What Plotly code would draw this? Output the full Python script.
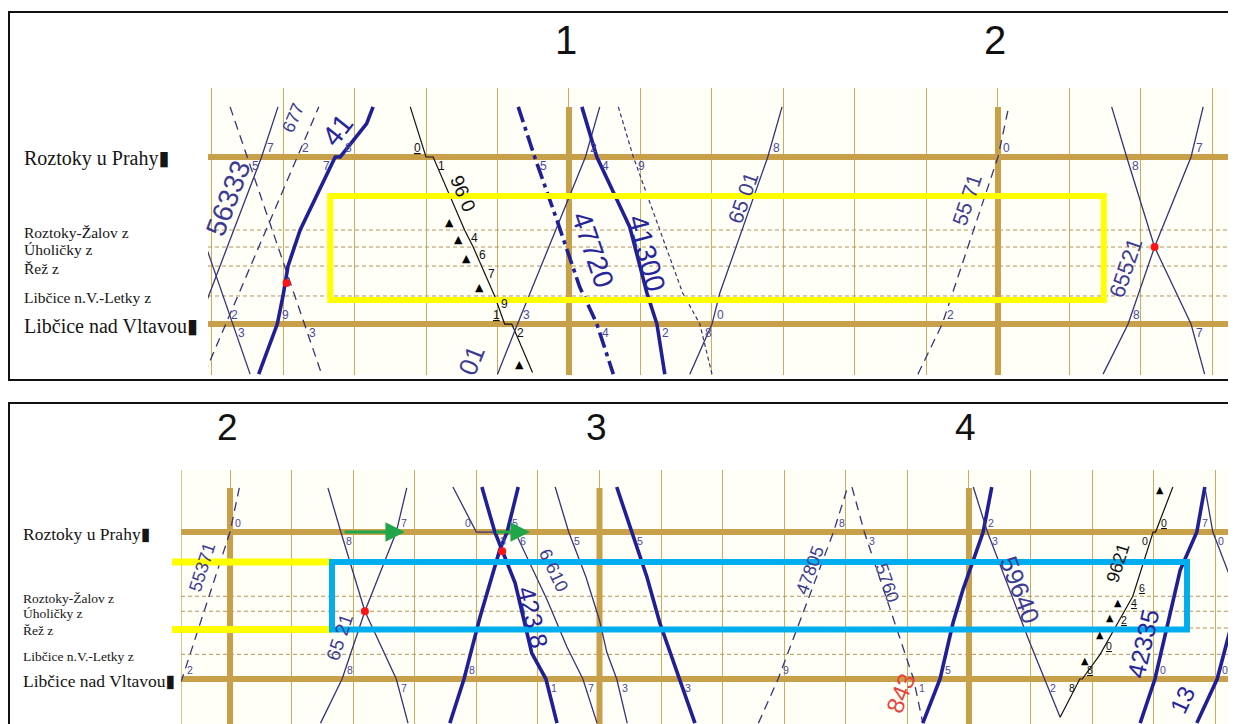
import math
import plotly.graph_objects as go

# the page body adds an 8 px margin, so the figure is 8 px smaller and all pixel positions shift by 8
OX, OY = 8, 8
W, H = 1228, 716


def PX(px):
    return (px - OX) / W


def PY(py):
    return 1 - (py - OY) / H


# ---------------- data ----------------
station_names = ["Roztoky u Prahy", "Roztoky-Žalov z", "Úholičky z", "Řež z",
                 "Libčice n.V.-Letky z", "Libčice nad Vltavou"]
station_pos = [0.0, 0.437, 0.539, 0.653, 0.832, 1.0]
station_main = [True, False, False, False, False, True]

hour_texts = ["1", "2", "3", "4"]
hour_minutes = [60, 120, 180, 240]

# train paths: time (minutes after 0:00) and position (0 = Roztoky u Prahy, 1 = Libčice nad Vltavou)
t_56333 = [5.3, 8.1, 17.0, 19.3]
p_56333 = [1.3, 1.0, 0.0, -0.3]
t_b = [12.6, 15.0, 23.0, 25.4]
p_b = [-0.3, 0.0, 1.0, 1.3]
t_c = [4.9, 13.0, 15.4]
p_c = [0.0, 1.0, 1.3]
t_677 = [9.0, 12.0, 22.0, 25.0]
p_677 = [1.3, 1.0, 0.0, -0.3]
t_41 = [16.6, 19.2, 20.0, 20.7, 22.4, 27.3, 28.0, 31.7, 32.6]
p_41 = [1.3, 1.0, 0.832, 0.653, 0.437, 0.0, 0.0, -0.2, -0.3]
t_9620 = [37.8, 40.0, 41.0, 45.4, 46.6, 47.8, 49.6, 51.0, 52.0, 54.9]
p_9620 = [-0.3, 0.0, 0.0, 0.437, 0.539, 0.653, 0.832, 1.0, 1.0, 1.29]
t_01 = [50.0, 52.8, 62.3, 64.3]
p_01 = [1.3, 1.0, 0.0, -0.3]
t_47720 = [52.9, 55.2, 58.3, 61.5, 63.9, 66.2]
p_47720 = [-0.3, 0.0, 0.377, 0.778, 1.0, 1.3]
t_41300 = [61.8, 63.9, 68.5, 70.9, 72.3, 73.4]
p_41300 = [-0.3, 0.0, 0.419, 0.814, 1.0, 1.3]
t_k = [66.9, 69.0, 75.9, 78.3, 80.0]
p_k = [-0.3, 0.0, 0.814, 1.0, 1.3]
t_6501 = [76.9, 80.0, 81.1, 87.8, 89.8]
p_6501 = [1.3, 1.0, 0.814, 0.0, -0.3]
t_55371 = [108.8, 112.2, 120.0, 121.5]
p_55371 = [1.3, 1.0, 0.0, -0.3]
t_n = [135.9, 138.0, 141.9, 147.0, 148.9]
p_n = [-0.3, 0.0, 0.539, 1.0, 1.3]
t_65521 = [134.7, 138.2, 141.9, 147.0, 148.7]
p_65521 = [1.3, 1.0, 0.539, 0.0, -0.3]
t_66610 = [156.2, 160.0, 166.3, 171.5, 174.7, 177.3, 179.6]
p_66610 = [-0.306, 0.0, 0.0, 0.463, 0.78, 1.0, 1.3]
t_42328 = [160.9, 163.0, 166.3, 169.0, 171.3, 173.1]
p_42328 = [-0.306, 0.0, 0.347, 0.823, 1.0, 1.3]
t_s = [155.7, 158.0, 160.6, 163.8, 165.0, 166.8]
p_s = [1.3, 1.0, 0.578, 0.122, 0.0, -0.306]
t_t = [172.8, 175.0, 177.8, 180.0, 181.2, 182.8, 184.5]
p_t = [-0.306, 0.0, 0.306, 0.6, 0.82, 1.0, 1.3]
t_u = [182.8, 185.3, 187.7, 189.8, 191.5, 193.1, 195.5]
p_u = [-0.306, 0.0, 0.306, 0.619, 0.823, 1.0, 1.3]
t_47805 = [205.8, 209.0, 218.0, 220.3]
p_47805 = [1.3, 1.0, 0.0, -0.306]
t_5760 = [221.0, 223.0, 231.0, 232.5]
p_5760 = [-0.306, 0.0, 1.0, 1.3]
t_843 = [232.5, 235.3, 237.4, 239.0, 242.3, 243.7]
p_843 = [1.3, 1.0, 0.619, 0.395, 0.0, -0.306]
t_59640 = [240.7, 243.0, 249.9, 252.3, 254.8]
p_59640 = [-0.306, 0.0, 0.755, 1.0, 1.26]
t_9621 = [254.8, 258.0, 258.4, 261.3, 263.7, 265.3, 266.6, 269.9, 270.3, 273.1]
p_9621 = [1.26, 1.0, 1.0, 0.832, 0.653, 0.539, 0.437, 0.0, 0.0, -0.306]
t_42335 = [267.8, 270.2, 274.3, 277.0, 278.3]
p_42335 = [1.3, 1.0, 0.259, 0.0, -0.306]
t_13 = [277.0, 280.3, 284.0, 288.6]
p_13 = [1.3, 1.0, 0.415, -0.306]
t_cc = [278.3, 279.6, 283.4, 287.0]
p_cc = [-0.306, 0.0, 0.415, 1.0]

# halt minute digits of the stopping trains (Žalov, Úholičky, Řež, Letky)
halt_digits_9620 = ["4", "6", "7", "9"]
halt_digits_9621 = ["6", "4", "2", "0"]
extra_triangle_pos_9620 = [1.245]
extra_triangle_pos_9621 = [-0.286]

# crossing points marked in red
red_t = [20.5, 141.9, 164.2]
red_p = [0.754, 0.539, 0.13]

# train number labels: (train, text, time, position, font size)
top_labels = [
    ("56333", "56333", 12.3, 0.246, 28),
    ("677", "677", 21.4, -0.234, 18),
    ("41", "41", 27.6, -0.16, 28),
    ("9620", "96 0", 45.2, 0.216, 19),
    ("01", "01", 46.4, 1.216, 26),
    ("47720", "47720", 63.4, 0.557, 28),
    ("41300", "41300", 70.9, 0.575, 28),
    ("6501", "65 01", 84.3, 0.24, 21),
    ("55371", "55 71", 115.7, 0.257, 21),
    ("65521", "65521", 137.8, 0.665, 22),
]
bottom_labels = [
    ("55371", "55371", 115.5, 0.238, 18),
    ("65521", "65 21", 137.9, 0.714, 19),
    ("66610", "6 610", 172.5, 0.26, 18),
    ("42328", "423 8", 169.2, 0.578, 25),
    ("47805", "47805", 214.2, 0.26, 18),
    ("5760", "5760", 226.7, 0.347, 18),
    ("843", "843", 228.9, 1.1, 24),
    ("59640", "59640", 248.3, 0.395, 25),
    ("9621", "9621", 264.2, 0.21, 18),
    ("42335", "42335", 268.3, 0.755, 25),
    ("13", "13", 274.7, 1.14, 24),
]

# ---------------- styles ----------------
NAVY_THIN = "#34347a"
NAVY_THICK = "#1f1f98"
GOLD = "#c9a04a"
GOLD_THIN = "#cfad58"
styles = {
    "thin": dict(color=NAVY_THIN, width=1.3),
    "dash": dict(color=NAVY_THIN, width=1.3, dash="9px,6px"),
    "dot": dict(color=NAVY_THIN, width=1.2, dash="4px,3px"),
    "thick": dict(color=NAVY_THICK, width=3.6),
    "dashdot": dict(color=NAVY_THICK, width=3.6, dash="16px,5px,4px,5px"),
    "black": dict(color="#111111", width=1.2),
}

trains = [
    ("56333", t_56333, p_56333, "thin"),
    ("b", t_b, p_b, "dash"),
    ("c", t_c, p_c, "thin"),
    ("677", t_677, p_677, "dash"),
    ("41", t_41, p_41, "thick"),
    ("9620", t_9620, p_9620, "black"),
    ("01", t_01, p_01, "thin"),
    ("47720", t_47720, p_47720, "dashdot"),
    ("41300", t_41300, p_41300, "thick"),
    ("k", t_k, p_k, "dot"),
    ("6501", t_6501, p_6501, "thin"),
    ("55371", t_55371, p_55371, "dash"),
    ("n", t_n, p_n, "thin"),
    ("65521", t_65521, p_65521, "thin"),
    ("66610", t_66610, p_66610, "thin"),
    ("42328", t_42328, p_42328, "thick"),
    ("s", t_s, p_s, "thick"),
    ("t", t_t, p_t, "thin"),
    ("u", t_u, p_u, "thick"),
    ("47805", t_47805, p_47805, "dash"),
    ("5760", t_5760, p_5760, "dash"),
    ("843", t_843, p_843, "thick"),
    ("59640", t_59640, p_59640, "thin"),
    ("9621", t_9621, p_9621, "black"),
    ("42335", t_42335, p_42335, "thick"),
    ("13", t_13, p_13, "thick"),
    ("cc", t_cc, p_cc, "thin"),
]
train_by_key = {k: (ts, ps, st) for k, ts, ps, st in trains}
stopping = {"9620": (halt_digits_9620, extra_triangle_pos_9620),
            "9621": (halt_digits_9621, extra_triangle_pos_9621)}

panels = [
    dict(xa="x", ya="y", xr=[9.51, 153.29], yr=[1.305, -0.413], xd=[208, 1236], yd=[88, 375],
         fs=1.0, lab_x=22, big=20, small=15.5, hour_y=40, hour_size=40, labels=top_labels),
    dict(xa="x2", ya="y2", xr=[112.04, 283.36], yr=[1.306, -0.422], xd=[181, 1236], yd=[470, 724],
         fs=0.88, lab_x=21, big=17.5, small=13.5, hour_y=427, hour_size=37, labels=bottom_labels),
]


def crossings(ts, ps, s):
    out = []
    for i in range(len(ts) - 1):
        t0, t1, p0, p1 = ts[i], ts[i + 1], ps[i], ps[i + 1]
        if p0 == s and p1 == s:
            out += [t0, t1]
        elif p0 != p1 and min(p0, p1) <= s <= max(p0, p1):
            out.append(t0 + (s - p0) * (t1 - t0) / (p1 - p0))
    return sorted(set(round(v, 4) for v in out))


def seg_angle(ts, ps, t, p, sx, sy):
    best, bestd = None, 1e18
    for i in range(len(ts) - 1):
        if ps[i] == ps[i + 1]:
            continue
        ax, ay = ts[i] * sx, ps[i] * sy
        bx, by = ts[i + 1] * sx, ps[i + 1] * sy
        px, py = t * sx, p * sy
        vx, vy = bx - ax, by - ay
        u = max(0.0, min(1.0, ((px - ax) * vx + (py - ay) * vy) / (vx * vx + vy * vy)))
        d = (ax + u * vx - px) ** 2 + (ay + u * vy - py) ** 2
        if d < bestd:
            bestd, best = d, math.degrees(math.atan2(vy, vx))
    return best


fig = go.Figure()
ann = []
shapes = []

for k, P in enumerate(panels):
    xa, ya = P["xa"], P["ya"]
    x0, x1 = P["xr"]
    sx = (P["xd"][1] - P["xd"][0]) / (x1 - x0)
    sy = (P["yd"][1] - P["yd"][0]) / (P["yr"][0] - P["yr"][1])
    fs = P["fs"]

    # station lines
    for name, pos, main in zip(station_names, station_pos, station_main):
        if main:
            shapes.append(dict(type="line", xref=xa, yref=ya, x0=x0, x1=x1, y0=pos, y1=pos,
                               line=dict(color=GOLD, width=6), layer="between"))
        else:
            shapes.append(dict(type="line", xref=xa, yref=ya, x0=x0, x1=x1, y0=pos, y1=pos,
                               line=dict(color="#b5955c", width=1, dash="4px,3px"), layer="between"))
        ann.append(dict(text=name + ("▮" if main else ""), xref="paper", yref=ya,
                        x=PX(P["lab_x"]), y=pos, xanchor="left", yanchor="middle", yshift=-2,
                        showarrow=False,
                        font=dict(family="Liberation Serif, DejaVu Serif, serif",
                                  size=P["big"] if main else P["small"], color="#151515")))
    # hour lines + labels
    for txt, m in zip(hour_texts, hour_minutes):
        if x0 < m < x1:
            shapes.append(dict(type="line", xref=xa, yref=ya, x0=m, x1=m, y0=-0.3, y1=P["yr"][0],
                               line=dict(color=GOLD, width=6), layer="between"))
            ann.append(dict(text=txt, xref=xa, yref="paper", x=m, y=PY(P["hour_y"]),
                            xanchor="center", yanchor="middle", showarrow=False, xshift=-3,
                            font=dict(family="Liberation Sans, Arial, sans-serif",
                                      size=P["hour_size"], color="#111111")))
    if k == 1:
        shapes.append(dict(type="line", xref=xa, yref=ya, x0=x0, x1=x0, y0=P["yr"][1], y1=P["yr"][0],
                           line=dict(color=GOLD_THIN, width=1.4), layer="between"))

    # trains
    for key, ts, ps, st in trains:
        fig.add_trace(go.Scatter(x=ts, y=ps, mode="lines", xaxis=xa, yaxis=ya,
                                 line=styles[st], hoverinfo="skip", showlegend=False))

        desc = ps[-1] > ps[0]
        black = st == "black"
        dcol = "#111111" if black else "#4b4b9e"

        def digit(t, s, side, underline=False):
            if not (x0 - 0.1 < t < x1 - 0.4):
                return
            d = str(int(math.floor(t + 0.5)) % 10)
            above = side in ("above-left", "above-right")
            if underline:
                d = "<u>" + d + "</u>"
            ann.append(dict(text=d, xref=xa, yref=ya, x=t, y=s, showarrow=False,
                            xanchor="left" if side.endswith("right") else "right",
                            yanchor="middle",
                            xshift=3 if side.endswith("right") else -3,
                            yshift=9 if above else -9,
                            font=dict(family="Liberation Sans, Arial, sans-serif",
                                      size=12 * fs, color=dcol)))

        after = "below-right" if desc else "above-right"
        before = "above-left" if desc else "below-left"
        for s in (0.0, 1.0):
            cr = crossings(ts, ps, s)
            if len(cr) == 1:
                digit(cr[0], s, after, black and after.startswith("above"))
            elif len(cr) >= 2:
                digit(cr[0], s, before, black and before.startswith("above"))
                digit(cr[-1], s, after, black and after.startswith("above"))

        if key in stopping:
            hd, extra = stopping[key]
            for s, dtxt in zip(station_pos[1:5], hd):
                cr = crossings(ts, ps, s)
                if not cr or not (x0 < cr[0] < x1):
                    continue
                tc = cr[0]
                ann.append(dict(text=("<u>" + dtxt + "</u>") if not desc else dtxt,
                                xref=xa, yref=ya, x=tc, y=s, showarrow=False,
                                xanchor="left", yanchor="middle", xshift=4,
                                yshift=-8 if desc else 8,
                                font=dict(family="Liberation Sans, Arial, sans-serif",
                                          size=12 * fs, color="#111111")))
                ann.append(dict(text="▲", xref=xa, yref=ya, x=tc, y=s, showarrow=False,
                                xanchor="center", yanchor="middle", xshift=-15,
                                yshift=8 if desc else -6,
                                font=dict(family="DejaVu Sans", size=11 * fs, color="#000000")))
            for s in extra:
                cr = crossings(ts, ps, s)
                if cr and x0 < cr[0] < x1:
                    ann.append(dict(text="▲", xref=xa, yref=ya, x=cr[0], y=s, showarrow=False,
                                    xanchor="center", yanchor="middle",
                                    xshift=-10 if desc else -12, yshift=0,
                                    font=dict(family="DejaVu Sans", size=11 * fs, color="#000000")))

    # red crossing dots
    fig.add_trace(go.Scatter(x=red_t, y=red_p, mode="markers", xaxis=xa, yaxis=ya,
                             marker=dict(color="#ff1414", size=8), hoverinfo="skip", showlegend=False))

    # train number labels
    for key, txt, t, p, size in P["labels"]:
        ts, ps, st = train_by_key[key]
        ang = seg_angle(ts, ps, t, p, sx, sy)
        if key == "843":
            col = "#e5463c"
        elif st == "black":
            col = "#111111"
        elif st in ("thick", "dashdot"):
            col = "#26269c"
        else:
            col = "#3c3c92"
        ann.append(dict(text=txt, xref=xa, yref=ya, x=t, y=p, showarrow=False,
                        textangle=ang, xanchor="center", yanchor="middle",
                        font=dict(family="Liberation Sans, Arial, sans-serif", size=size, color=col)))

# panel frames
shapes.append(dict(type="rect", xref="paper", yref="paper", x0=PX(9), x1=1.02,
                   y0=PY(380), y1=PY(12), line=dict(color="#111111", width=2)))
shapes.append(dict(type="rect", xref="paper", yref="paper", x0=PX(9), x1=1.02,
                   y0=-0.05, y1=PY(403), line=dict(color="#111111", width=2)))

# highlight overlays
shapes.append(dict(type="rect", xref="x", yref="y", x0=26.6, x1=134.8, y0=0.2335, y1=0.856,
                   line=dict(color="#ffff00", width=6), layer="above"))
for yy in (0.204, 0.663):
    shapes.append(dict(type="line", xref="paper", yref="y2", x0=PX(172), x1=PX(332), y0=yy, y1=yy,
                       line=dict(color="#ffff00", width=7), layer="above"))
shapes.append(dict(type="rect", xref="x2", yref="y2", x0=136.56, x1=275.4, y0=0.204, y1=0.663,
                   line=dict(color="#00aeef", width=6), layer="above"))
for xs, xe in ((138.35, 148.4), (163.0, 168.7)):
    ann.append(dict(text="", x=xe, y=0.0, ax=xs, ay=0.0, xref="x2", yref="y2", axref="x2", ayref="y2",
                    showarrow=True, arrowhead=2, arrowsize=1.3, arrowwidth=3, arrowcolor="#1fa64a",
                    standoff=0, startstandoff=0))

P0, P1 = panels
axis_common = dict(showticklabels=False, zeroline=False, showline=False, ticks="")
fig.update_layout(
    width=W, height=H, margin=dict(l=0, r=0, t=0, b=0),
    paper_bgcolor="white", plot_bgcolor="#fffef7", showlegend=False,
    xaxis=dict(domain=[PX(P0["xd"][0]), 1], range=P0["xr"], anchor="y", showgrid=True,
               dtick=10, tick0=0, gridcolor=GOLD_THIN, gridwidth=1.4, **axis_common),
    yaxis=dict(domain=[PY(P0["yd"][1]), PY(P0["yd"][0])], range=P0["yr"], anchor="x",
               showgrid=False, **axis_common),
    xaxis2=dict(domain=[PX(P1["xd"][0]), 1], range=P1["xr"], anchor="y2", showgrid=True,
                dtick=10, tick0=0, gridcolor=GOLD_THIN, gridwidth=1.4, **axis_common),
    yaxis2=dict(domain=[0, PY(P1["yd"][0])], range=P1["yr"], anchor="x2",
                showgrid=False, **axis_common),
    shapes=shapes, annotations=ann,
)

fig.write_html("out.html")
